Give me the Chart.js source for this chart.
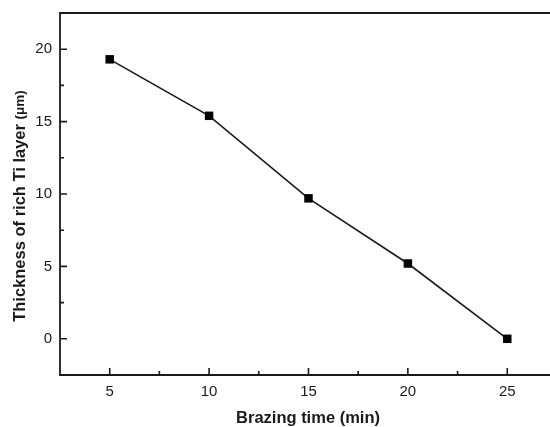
<!DOCTYPE html>
<html>
<head>
<meta charset="utf-8">
<script src="https://cdn.jsdelivr.net/npm/chart.js@4/dist/chart.umd.min.js"></script>
<style>
html,body{margin:0;padding:0;background:#fff;overflow:hidden;}
canvas{display:block;}
</style>
</head>
<body>
<canvas id="c" width="550" height="427"></canvas>
<script>
const brazingTime = [5, 10, 15, 20, 25];
const thickness = [19.3, 15.4, 9.7, 5.2, 0.0];
const xTicks = [5, 10, 15, 20, 25];
const xMinorTicks = [7.5, 12.5, 17.5, 22.5];
const yTicks = [0, 5, 10, 15, 20];
const yMinorTicks = [2.5, 7.5, 12.5, 17.5];
const xTitle = 'Brazing time (min)';
const yTitleMain = 'Thickness of rich Ti layer ';
const yTitleUnit = '(\u03bcm)';

const ink = '#1a1a1a';
const fam = 'Liberation Sans, Arial, sans-serif';

const framePlugin = {
  id: 'frame',
  afterDatasetsDraw(chart) {
    const ctx = chart.ctx, a = chart.chartArea;
    const xs = chart.scales.x, ys = chart.scales.y;
    ctx.save();
    ctx.strokeStyle = ink;
    ctx.lineWidth = 1.8;
    ctx.beginPath();
    ctx.moveTo(a.right + 2, a.top);
    ctx.lineTo(a.left, a.top);
    ctx.lineTo(a.left, a.bottom);
    ctx.lineTo(a.right + 2, a.bottom);
    ctx.stroke();
    ctx.lineWidth = 1.6;
    ctx.beginPath();
    xTicks.forEach(v => { const p = xs.getPixelForValue(v); ctx.moveTo(p, a.bottom); ctx.lineTo(p, a.bottom - 7); });
    xMinorTicks.forEach(v => { const p = xs.getPixelForValue(v); ctx.moveTo(p, a.bottom); ctx.lineTo(p, a.bottom - 4); });
    yTicks.forEach(v => { const p = ys.getPixelForValue(v); ctx.moveTo(a.left, p); ctx.lineTo(a.left + 7, p); });
    yMinorTicks.forEach(v => { const p = ys.getPixelForValue(v); ctx.moveTo(a.left, p); ctx.lineTo(a.left + 4, p); });
    ctx.stroke();

    // axis titles
    ctx.fillStyle = ink;
    ctx.textBaseline = 'alphabetic';
    ctx.font = 'bold 16.5px ' + fam;
    ctx.textAlign = 'center';
    ctx.fillText(xTitle, 308, 423);

    ctx.translate(25, 206);
    ctx.rotate(-Math.PI / 2);
    const f1 = 'bold 16.5px ' + fam, f2 = 'bold 13.5px ' + fam;
    ctx.font = f1; const w1 = ctx.measureText(yTitleMain).width;
    ctx.font = f2; const w2 = ctx.measureText(yTitleUnit).width;
    const start = -(w1 + w2) / 2;
    ctx.textAlign = 'left';
    ctx.font = f1; ctx.fillText(yTitleMain, start, 0);
    ctx.font = f2; ctx.fillText(yTitleUnit, start + w1, -1);
    ctx.restore();
  }
};

new Chart(document.getElementById('c'), {
  type: 'line',
  data: {
    datasets: [{
      data: brazingTime.map((t, i) => ({ x: t, y: thickness[i] })),
      borderColor: ink,
      borderWidth: 1.6,
      backgroundColor: '#000',
      pointStyle: 'rect',
      pointRadius: 6,
      pointBorderWidth: 0,
      tension: 0,
      fill: false
    }]
  },
  options: {
    responsive: false,
    maintainAspectRatio: false,
    animation: false,
    devicePixelRatio: 1,
    layout: { autoPadding: false, padding: { top: 13, right: 0, left: 0, bottom: 0 } },
    plugins: { legend: { display: false }, tooltip: { enabled: false } },
    scales: {
      x: {
        type: 'linear',
        min: 2.5,
        max: 27.15,
        afterBuildTicks: s => { s.ticks = xTicks.map(v => ({ value: v })); },
        afterFit: s => { s.height = 52; s.paddingLeft = 0; s.paddingRight = 0; },
        grid: { display: false, drawTicks: false },
        border: { display: false },
        ticks: {
          padding: 8,
          color: ink,
          font: { family: fam, size: 15 },
          maxRotation: 0
        }
      },
      y: {
        type: 'linear',
        min: -2.5,
        max: 22.5,
        afterBuildTicks: s => { s.ticks = yTicks.map(v => ({ value: v })); },
        afterFit: s => { s.width = 60; s.paddingTop = 0; s.paddingBottom = 0; },
        grid: { display: false, drawTicks: false },
        border: { display: false },
        ticks: {
          padding: 8,
          color: ink,
          font: { family: fam, size: 15 }
        }
      }
    }
  },
  plugins: [framePlugin]
});
</script>
</body>
</html>
